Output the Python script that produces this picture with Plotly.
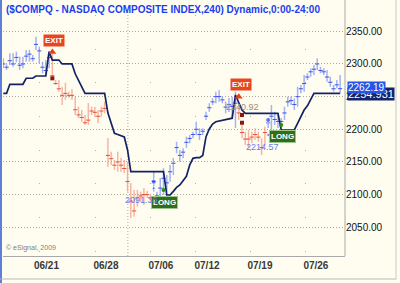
import plotly.graph_objects as go

# ---------------- data (240-min bars, index 0..103) ----------------
highs = [2308.7, 2299.5, 2316.4, 2316.4, 2318.8, 2311.2, 2311.2, 2321.4, 2321.4, 2313.8,
         2341.8, 2326.5, 2303.5, 2306.1, 2318.8, 2318.3, 2275.5, 2275.5, 2265.2, 2271.3,
         2257.6, 2261.7, 2249.9, 2234.6, 2229.5, 2221.9, 2240.3, 2234.6, 2234.6, 2229.5,
         2234.6, 2242.3, 2186.7, 2165.7, 2153.0, 2165.7, 2156.1, 2153.0, 2150.4, 2117.8,
         2107.1, 2107.1, 2104.5, 2110.1, 2105.5, 2099.4, 2135.1, 2104.5, 2125.4, 2140.3,
         2130.0, 2145.3, 2156.1, 2181.0, 2168.3, 2171.0, 2188.7, 2191.3, 2196.3, 2211.6,
         2201.5, 2201.5, 2226.9, 2239.8, 2247.5, 2257.6, 2260.2, 2249.9, 2242.3, 2247.9,
         2249.9, 2257.6, 2237.2, 2206.6, 2196.3, 2198.9, 2196.3, 2201.5, 2196.3, 2186.2,
         2204.0, 2217.3, 2237.2, 2226.9, 2221.9, 2217.3, 2234.6, 2249.9, 2249.9, 2247.5,
         2265.2, 2267.8, 2283.1, 2285.7, 2293.4, 2298.4, 2308.7, 2295.8, 2293.4, 2290.8,
         2280.5, 2267.8, 2275.5, 2283.1]
lows = [2293.4, 2290.8, 2298.4, 2295.8, 2302.6, 2290.8, 2293.4, 2303.5, 2303.5, 2303.5,
        2321.4, 2301.0, 2285.7, 2283.1, 2293.4, 2278.5, 2267.8, 2257.6, 2237.2, 2244.9,
        2247.9, 2244.9, 2221.9, 2217.3, 2211.6, 2206.6, 2206.6, 2221.9, 2219.3, 2209.6,
        2219.3, 2224.5, 2142.7, 2145.3, 2137.7, 2135.1, 2135.1, 2133.1, 2104.5, 2064.2,
        2066.2, 2081.5, 2089.2, 2084.1, 2094.8, 2087.2, 2104.5, 2089.2, 2084.1, 2099.4,
        2104.5, 2119.8, 2130.0, 2163.3, 2150.4, 2155.6, 2171.4, 2178.6, 2186.2, 2191.3,
        2183.6, 2191.3, 2214.2, 2226.9, 2237.2, 2239.8, 2242.3, 2239.8, 2224.5, 2226.5,
        2216.8, 2202.0, 2214.2, 2186.2, 2176.0, 2171.0, 2178.6, 2183.6, 2181.0, 2160.7,
        2176.0, 2202.0, 2196.3, 2206.6, 2201.5, 2206.6, 2214.2, 2234.6, 2237.2, 2229.5,
        2234.6, 2255.1, 2257.6, 2275.5, 2280.5, 2283.1, 2290.8, 2285.7, 2283.1, 2272.9,
        2265.2, 2257.6, 2262.8, 2255.1]
closes = [2300, 2295, 2305, 2300, 2310, 2298, 2300, 2312, 2315, 2308,
          2330, 2320, 2295, 2290, 2310, 2282, 2270, 2262, 2252, 2255,
          2252, 2252, 2230, 2222, 2218, 2210, 2214, 2228, 2226, 2220,
          2228, 2232, 2160, 2155, 2145, 2150, 2145, 2140, 2120, 2090,
          2075, 2095, 2098, 2100, 2100, 2095, 2120, 2098, 2110, 2125,
          2118, 2135, 2148, 2172, 2160, 2165, 2180, 2186, 2192, 2200,
          2192, 2197, 2220, 2233, 2242, 2250, 2250, 2245, 2234, 2238,
          2235, 2240, 2225, 2195, 2185, 2185, 2188, 2192, 2188, 2172,
          2195, 2210, 2220, 2215, 2212, 2212, 2225, 2242, 2244, 2238,
          2250, 2262, 2270, 2280, 2288, 2292, 2300, 2290, 2288, 2280,
          2272, 2262, 2268, 2262.19]
stop = [2255.1, 2255.1, 2268.9, 2268.9, 2268.9, 2268.9, 2268.9, 2278.1, 2278.1, 2278.1,
        2281.6, 2281.6, 2281.6, 2281.6, 2318.8, 2306.0, 2306.0, 2306.0, 2300.0, 2300.0,
        2300.0, 2300.0, 2285.0, 2275.5, 2265.0, 2255.1, 2255.1, 2255.1, 2255.1, 2255.1,
        2255.1, 2255.1, 2224.9, 2207.4, 2193.9, 2192.0, 2190.5, 2188.2, 2168.3, 2135.1,
        2135.1, 2135.1, 2135.1, 2135.1, 2135.1, 2135.1, 2135.1, 2135.1, 2135.1, 2135.1,
        2099.4, 2099.4, 2105.0, 2111.0, 2114.7, 2121.0, 2128.0, 2145.3, 2155.6, 2156.5,
        2156.5, 2160.0, 2188.7, 2200.5, 2208.0, 2211.6, 2212.7, 2214.2, 2214.2, 2216.0,
        2217.0, 2252.5, 2242.3, 2229.5, 2224.5, 2224.5, 2224.5, 2224.5, 2224.5, 2224.5,
        2224.5, 2224.5, 2224.5, 2224.5, 2224.5, 2198.9, 2198.9, 2198.9, 2198.9, 2198.9,
        2209.0, 2219.0, 2229.5, 2236.0, 2246.0, 2255.1, 2255.1, 2255.1, 2255.1, 2255.1,
        2255.1, 2255.1, 2255.1, 2255.1]

# signals
short_starts = [15, 72]      # first bar of each down (red) run
long_starts = [46, 81]       # first bar of each up (blue) run
exit_idx = [15, 72]
exit_price = [2318.3, 2250.0]
exit_text = ["", "2240.92"]
long_idx = [49, 85]
long_price = [2107.0, 2206.6]
blue_dot_idx = [46, 46, 81, 81]
blue_dot_price = [2119.8, 2109.7, 2214.2, 2191.3]
blue_dot_size = [5, 3, 5, 3]
darkred_idx = [15, 73, 73]
darkred_price = [2278.0, 2221.9, 2210.0]
long_text = ["2091.36", "2214.57"]

last_close = "2262.19"
last_stop = "2254.931"

yticks = [2050, 2100, 2150, 2200, 2250, 2300, 2350]
xtick_pos = [13.2, 31.4, 48.2, 62.3, 78.5, 95.6]
xtick_lab = ["06/21", "06/28", "07/06", "07/12", "07/19", "07/26"]
week_grid = [11.2, 28.1, 44.9, 58.7, 75.5, 92.3]
month_sep = 38.1

title = "($COMPQ - NASDAQ COMPOSITE INDEX,240) Dynamic,0:00-24:00"

# ---------------- build ----------------
n = len(highs)
trend = []
state = "L"
for i in range(n):
    if i in short_starts:
        state = "S"
    if i in long_starts:
        state = "L"
    trend.append(state)

def segs(side):
    xs, ys = [], []
    for i in range(n):
        if trend[i] == side:
            xs += [i, i, None]
            ys += [lows[i], highs[i], None]
    return xs, ys

BLUE_PALE = "rgba(125,145,248,0.7)"
BLUE_DARK = "#3a55ea"
RED_PALE = "rgba(242,150,130,0.7)"
RED_DARK = "#e4503a"
FONT = "Liberation Sans, Arial"

fig = go.Figure()
bx, by = segs("L")
rx, ry = segs("S")
fig.add_trace(go.Scatter(x=bx, y=by, mode="lines", line=dict(color=BLUE_PALE, width=1.5),
                         hoverinfo="skip", showlegend=False))
fig.add_trace(go.Scatter(x=rx, y=ry, mode="lines", line=dict(color=RED_PALE, width=1.5),
                         hoverinfo="skip", showlegend=False))
ci_b = [i for i in range(n) if trend[i] == "L"]
ci_r = [i for i in range(n) if trend[i] == "S"]
fig.add_trace(go.Scatter(x=ci_b, y=[closes[i] for i in ci_b], mode="markers",
                         marker=dict(symbol="line-ew", size=3, line=dict(color=BLUE_DARK, width=1)),
                         showlegend=False, hoverinfo="skip"))
fig.add_trace(go.Scatter(x=ci_r, y=[closes[i] for i in ci_r], mode="markers",
                         marker=dict(symbol="line-ew", size=3, line=dict(color=RED_DARK, width=1)),
                         showlegend=False, hoverinfo="skip"))
# trailing stop
fig.add_trace(go.Scatter(x=list(range(n)), y=stop, mode="lines",
                         line=dict(color="#142266", width=1.7), showlegend=False))
# signal markers
fig.add_trace(go.Scatter(x=exit_idx, y=exit_price, mode="markers",
                         marker=dict(symbol="triangle-up", size=7, color="#e8401c"), showlegend=False))
fig.add_trace(go.Scatter(x=darkred_idx, y=darkred_price, mode="markers",
                         marker=dict(symbol="square", size=4, color="#8a1a10"), showlegend=False))
fig.add_trace(go.Scatter(x=blue_dot_idx, y=blue_dot_price, mode="markers",
                         marker=dict(symbol="circle", size=blue_dot_size, color="#2b50f0"), showlegend=False))
fig.add_trace(go.Scatter(x=long_idx, y=long_price, mode="markers",
                         marker=dict(symbol="circle", size=4, color="#2e8a1e"), showlegend=False))
# invisible trace for week grid axis
fig.add_trace(go.Scatter(x=[0], y=[2200], xaxis="x2", mode="markers",
                         marker=dict(opacity=0), showlegend=False, hoverinfo="skip"))

ann = []
for i, p in zip(exit_idx, exit_price):
    ann.append(dict(x=i, y=p, xref="x", yref="y", text="<b>EXIT</b>", showarrow=False,
                    xshift=2, yshift=12, bgcolor="#e8461e", borderpad=1,
                    font=dict(family=FONT, size=8, color="white")))
for i, p in zip(long_idx, long_price):
    ann.append(dict(x=i, y=p, xref="x", yref="y", text="<b>LONG</b>", showarrow=False,
                    xshift=1, yshift=-12, bgcolor="#2e6e1c", borderpad=1,
                    bordercolor="#9cc890", borderwidth=1,
                    font=dict(family=FONT, size=8, color="white")))
ann.append(dict(x=exit_idx[1], y=exit_price[1], xref="x", yref="y", text=exit_text[1],
                showarrow=False, xshift=4, yshift=-10,
                font=dict(family=FONT, size=9, color="#9a8c80")))
ann.append(dict(x=long_idx[0], y=long_price[0], xref="x", yref="y", text=long_text[0],
                showarrow=False, xshift=-22, yshift=-10,
                font=dict(family=FONT, size=9, color="#6a7ee8")))
ann.append(dict(x=long_idx[1], y=long_price[1], xref="x", yref="y", text=long_text[1],
                showarrow=False, xshift=-19, yshift=-22,
                font=dict(family=FONT, size=9, color="#6a7ee8")))
# right price boxes (stop value box partly hidden under the last-price box)
ann.append(dict(x=1, y=float(last_close), xref="paper", yref="y", text=last_stop,
                xanchor="left", showarrow=False, xshift=2, yshift=-5, bgcolor="#14246a", borderpad=0,
                font=dict(family=FONT, size=11, color="white")))
ann.append(dict(x=1, y=float(last_close), xref="paper", yref="y", text=last_close,
                xanchor="left", showarrow=False, xshift=2, yshift=1, bgcolor="#2454e8", borderpad=0,
                font=dict(family=FONT, size=10, color="white")))
# title and copyright
ann.append(dict(x=0, y=1, xref="paper", yref="paper", text="<b>" + title + "</b>",
                xanchor="left", yanchor="bottom", showarrow=False, xshift=1, yshift=-3,
                font=dict(family=FONT, size=10, color="#1c3cf0")))
ann.append(dict(x=0, y=0, xref="paper", yref="paper", text="\u00a9 eSignal, 2009",
                xanchor="left", yanchor="bottom", showarrow=False, xshift=1, yshift=2,
                font=dict(family=FONT, size=7, color="#808080")))

shapes = [
    dict(type="line", xref="x", yref="paper", x0=month_sep, x1=month_sep, y0=0, y1=1.02,
         line=dict(color="#b0a8a0", width=1, dash="1px,2px"), layer="below"),
    dict(type="line", xref="paper", yref="paper", x0=1, x1=1, y0=0, y1=1.06,
         line=dict(color="#a8a8a8", width=1)),
    dict(type="rect", xref="paper", yref="paper", x0=-3 / 342, x1=-1 / 342, y0=-0.12, y1=1.06,
         line=dict(width=0), fillcolor="#5c7fd8"),
    dict(type="line", xref="paper", yref="paper", x0=-0.01, x1=1.15, y0=-23 / 242, y1=-23 / 242,
         line=dict(color="#b8b8b8", width=1)),
    dict(type="line", xref="paper", yref="paper", x0=(396 - 3) / 342, x1=(396 - 3) / 342,
         y0=-23 / 242, y1=1.06, line=dict(color="#c8c8c8", width=1)),
]

fig.update_layout(
    width=400, height=283,
    margin=dict(l=3, r=55, t=14, b=27),
    paper_bgcolor="#fffdf0", plot_bgcolor="#fffdf0",
    showlegend=False,
    annotations=ann, shapes=shapes,
    xaxis=dict(range=[-0.09, 104.5], tickvals=xtick_pos, ticktext=["<b>%s</b>" % t for t in xtick_lab],
               showgrid=False, zeroline=False, showline=True, linecolor="#a8a8a8",
               ticks="", tickfont=dict(family=FONT, size=10, color="#383838"),
               fixedrange=True),
    xaxis2=dict(range=[-0.09, 104.5], overlaying="x", tickvals=week_grid, showticklabels=False,
                showgrid=True, gridcolor="#b8b0a8", gridwidth=1, griddash="0px,1px,1px,31.65px",
                zeroline=False, showline=False, ticks=""),
    yaxis=dict(range=[2006, 2376.5], side="right", tickvals=yticks,
               ticktext=["%.2f" % v for v in yticks], showgrid=True, gridcolor="#b0a8a0",
               griddash="1px,2px", zeroline=False, showline=False, ticks="",
               tickfont=dict(family=FONT, size=10, color="#101010")),
)
fig.write_html("out.html")
